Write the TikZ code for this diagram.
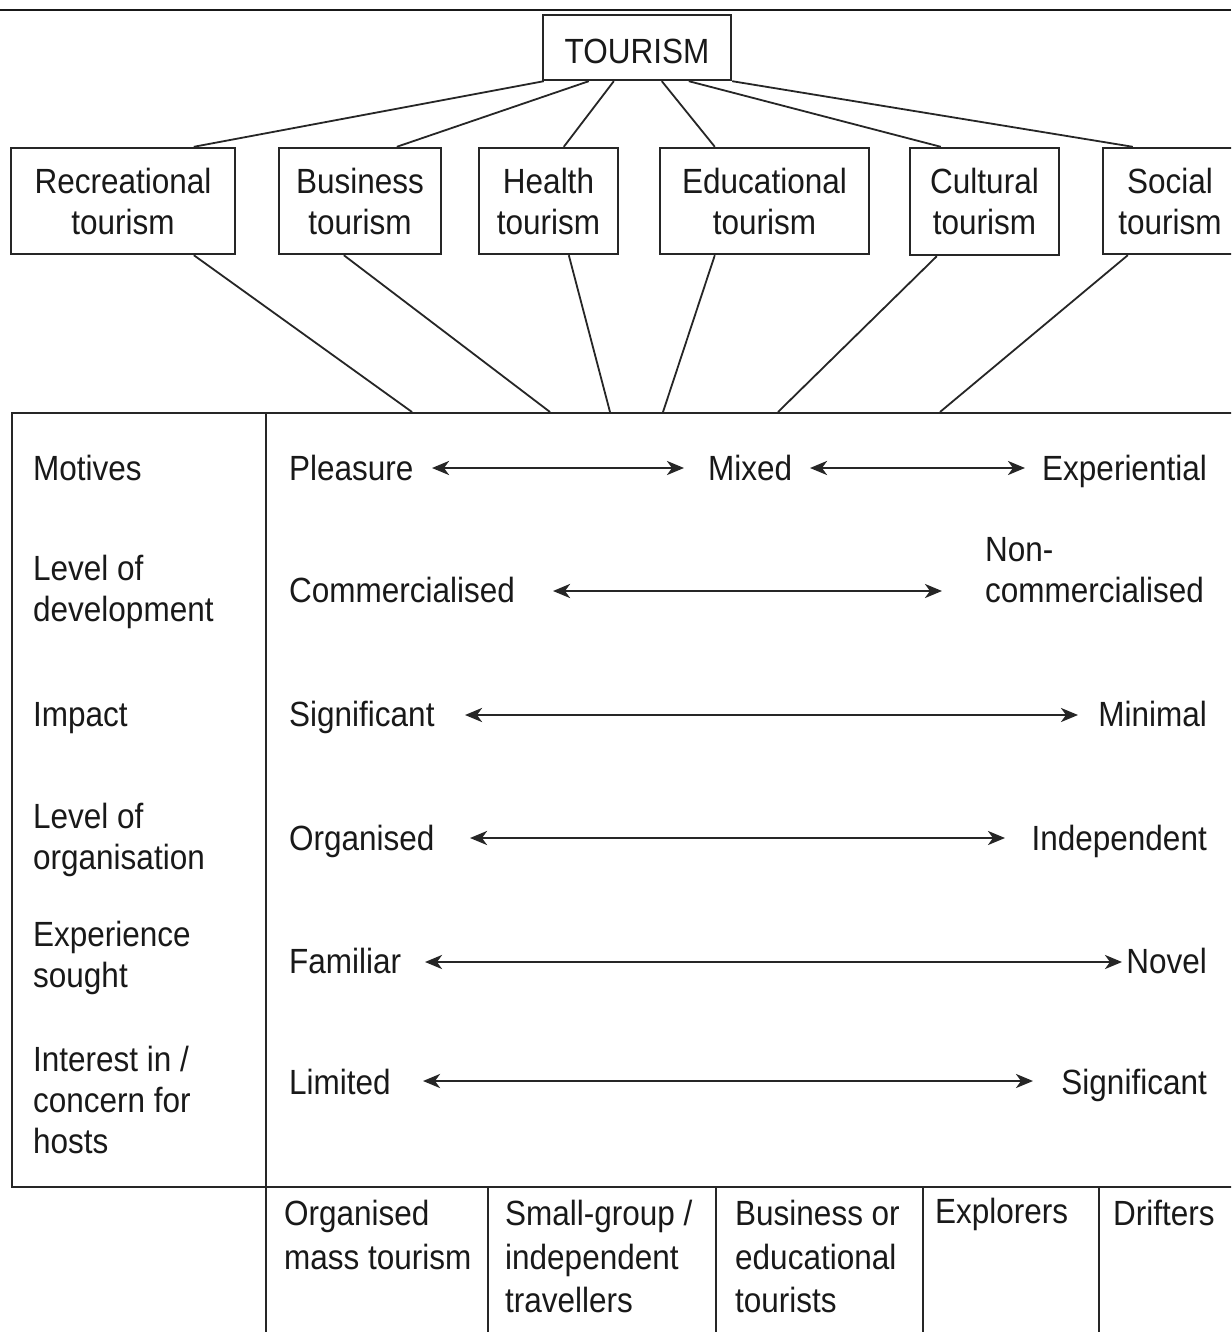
\documentclass[tikz,border=0pt]{standalone}
\usepackage{fontspec}
\setmainfont{Liberation Sans}[FakeStretch=0.9]
\usetikzlibrary{arrows.meta}
\begin{document}
\begin{tikzpicture}[x=1pt,y=-1pt,
  font=\fontsize{35}{41}\selectfont,
  txt/.style={inner sep=0pt, text=black!90},
  lefttxt/.style={txt, anchor=west, align=left},
  onel/.style={txt, anchor=west, text height=25pt, text depth=0pt},
  oner/.style={txt, anchor=east, text height=25pt, text depth=0pt},
  toptxt/.style={txt, anchor=north west, align=left, font=\fontsize{35}{43.5}\selectfont},
  catbox/.style={draw, line width=2.4pt, black!85, inner sep=0pt, align=center, text=black!90},
  conn/.style={line width=1.8pt, black!85},
  rule/.style={line width=1.8pt, black!85},
  dbl/.style={line width=2.6pt, black!85, {Stealth[length=17pt,width=14pt,inset=5pt]}-{Stealth[length=17pt,width=14pt,inset=5pt]}}
]
\useasboundingbox (0,0) rectangle (1231,1332);
\clip (0,0) rectangle (1231,1332);
\fill[white] (0,0) rectangle (1231,1332);

% top rule
\draw[line width=2.8pt, black!90] (0,10) -- (1231,10);

% top node
\node[catbox, minimum width=188pt, minimum height=65pt, text height=32pt, text depth=0pt] (tour) at (637,47.5) {TOURISM};

% category boxes
\node[catbox, minimum width=224pt, minimum height=106pt] (rec) at (123,201) {Recreational\\tourism};
\node[catbox, minimum width=162pt, minimum height=106pt] (bus) at (360,201) {Business\\tourism};
\node[catbox, minimum width=139pt, minimum height=106pt] (hea) at (548.5,201) {Health\\tourism};
\node[catbox, minimum width=209pt, minimum height=106pt] (edu) at (764.5,201) {Educational\\tourism};
\node[catbox, minimum width=149pt, minimum height=107pt] (cul) at (984.5,201.5) {Cultural\\tourism};
\node[catbox, minimum width=134pt, minimum height=106pt, text width=134pt] (soc) at (1170,201) {Social\\tourism};

% connectors TOURISM -> categories
\draw[conn] ([xshift=2pt]tour.south west) -- ([xshift=184pt]rec.north west);
\draw[conn] ([xshift=47pt]tour.south west) -- ([xshift=119pt]bus.north west);
\draw[conn] ([xshift=72pt]tour.south west) -- ([xshift=86pt]hea.north west);
\draw[conn] ([xshift=120pt]tour.south west) -- ([xshift=56pt]edu.north west);
\draw[conn] ([xshift=147pt]tour.south west) -- ([xshift=32pt]cul.north west);
\draw[conn] (tour.south east) -- ([xshift=31pt]soc.north west);

% table
\node[draw, line width=2.4pt, black!85, inner sep=0pt, minimum width=1226pt, minimum height=774pt, anchor=north west] (tab) at (11,412) {};
\coordinate (div) at (266,412);
\draw[rule] (div) -- (266,1332);

% connectors categories -> table
\draw[conn] ([xshift=184pt]rec.south west) -- ([xshift=401pt]tab.north west);
\draw[conn] ([xshift=66pt]bus.south west) -- ([xshift=539pt]tab.north west);
\draw[conn] ([xshift=91pt]hea.south west) -- ([xshift=599pt]tab.north west);
\draw[conn] ([xshift=56pt]edu.south west) -- ([xshift=652pt]tab.north west);
\draw[conn] ([xshift=28pt]cul.south west) -- ([xshift=767pt]tab.north west);
\draw[conn] ([xshift=26pt]soc.south west) -- ([xshift=929pt]tab.north west);

% left column labels
\node[onel] (l1) at (33,468) {Motives};
\node[lefttxt] (l2) at (33,592) {Level of\\development};
\node[onel] (l3) at (33,714) {Impact};
\node[lefttxt] (l4) at (33,840) {Level of\\organisation};
\node[lefttxt] (l5) at (33,958) {Experience\\sought};
\node[lefttxt] (l6) at (33,1100) {Interest in /\\concern for\\hosts};

% row 1
\node[onel] (pleas) at (289,468) {Pleasure};
\node[onel] (mixed) at (708,468) {Mixed};
\node[oner] (exper) at (1207,468) {Experiential};
\coordinate (a1s) at (432,468); \coordinate (a1e) at (684,468);
\coordinate (a2s) at (810,468); \coordinate (a2e) at (1025,468);
\draw[dbl] (a1s) -- (a1e);
\draw[dbl] (a2s) -- (a2e);

% row 2
\node[onel] (comm) at (289,590) {Commercialised};
\node[lefttxt] (noncomm) at (985,570) {Non-\\commercialised};
\coordinate (b1s) at (553,591); \coordinate (b1e) at (942,591);
\draw[dbl] (b1s) -- (b1e);

% row 3
\node[onel] (sig1) at (289,714) {Significant};
\node[oner] (mini) at (1207,714) {Minimal};
\coordinate (c1s) at (465,715); \coordinate (c1e) at (1078,715);
\draw[dbl] (c1s) -- (c1e);

% row 4
\node[onel] (orga) at (289,838) {Organised};
\node[oner] (inde) at (1207,838) {Independent};
\coordinate (d1s) at (470,838); \coordinate (d1e) at (1005,838);
\draw[dbl] (d1s) -- (d1e);

% row 5
\node[onel] (fami) at (289,961) {Familiar};
\node[oner] (novel) at (1207,961) {Novel};
\coordinate (e1s) at (425,962); \coordinate (e1e) at (1122,962);
\draw[dbl] (e1s) -- (e1e);

% row 6
\node[onel] (limi) at (289,1082) {Limited};
\node[oner] (sig2) at (1207,1082) {Significant};
\coordinate (f1s) at (423,1081); \coordinate (f1e) at (1033,1081);
\draw[dbl] (f1s) -- (f1e);

% bottom columns
\foreach \xx in {488,716,923,1099} {
  \draw[rule] (\xx,1186) -- (\xx,1332);
}
\node[toptxt] (bt1) at (284,1200) {Organised\\mass tourism};
\node[toptxt] (bt2) at (505,1200) {Small-group /\\independent\\travellers};
\node[toptxt] (bt3) at (735,1200) {Business or\\educational\\tourists};
\node[toptxt] (bt4) at (935,1198) {Explorers};
\node[toptxt] (bt5) at (1113,1200) {Drifters};
\end{tikzpicture}
\end{document}
